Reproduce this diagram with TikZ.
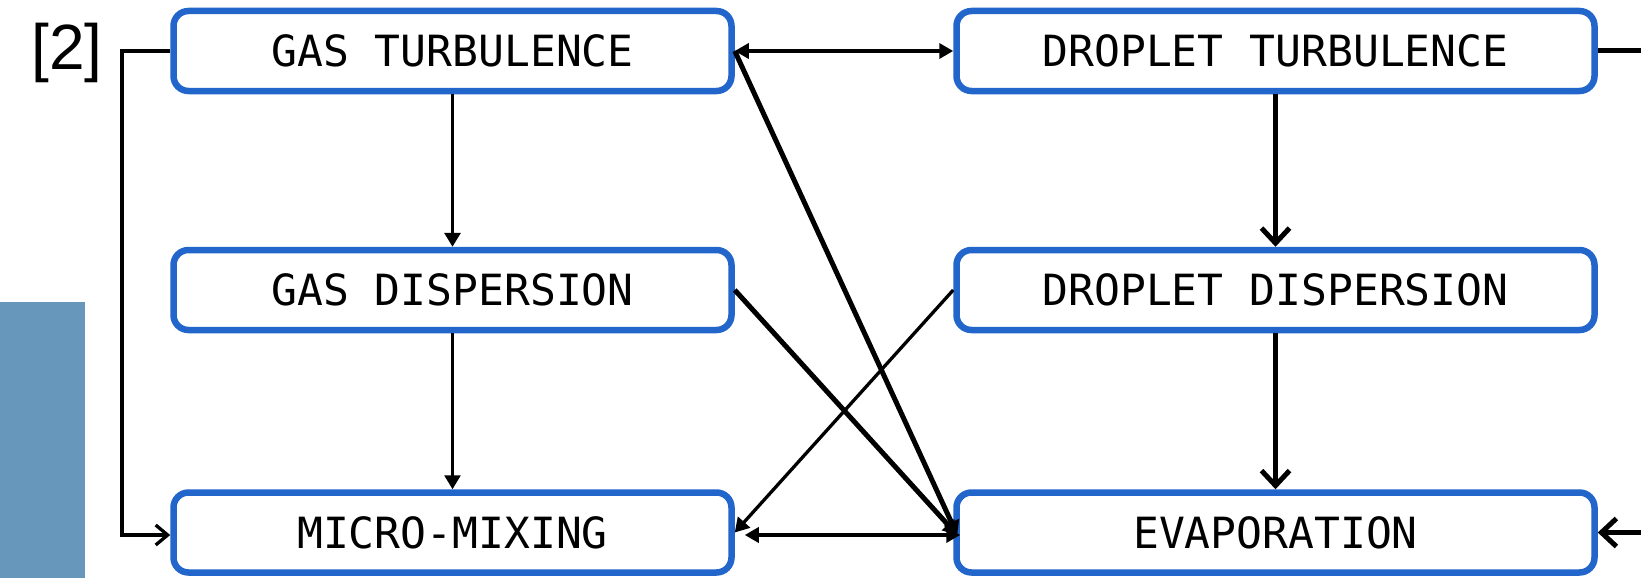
\documentclass[tikz,border=0pt]{standalone}
\usepackage{fontspec}
\setmainfont{Liberation Sans}
\newfontfamily\monof{DejaVu Sans Mono}
\usetikzlibrary{arrows.meta,calc}
\definecolor{boxblue}{RGB}{34,102,204}
\definecolor{sideblue}{RGB}{103,152,187}
\begin{document}
\begin{tikzpicture}[x=1pt,y=-1pt,
  box/.style={draw=boxblue,line width=6.5pt,rounded corners=15pt,fill=white,
    font=\monof\fontsize{43}{50}\selectfont,minimum height=80pt,inner sep=0pt},
  lbox/.style={box,minimum width=558pt},
  rbox/.style={box,minimum width=638pt},
  tri/.style={-{Triangle[length=14pt,width=16pt]}},
  dtri/.style={{Triangle[length=14pt,width=15pt]}-{Triangle[length=14pt,width=15pt]}},
  barb/.style={-{Straight Barb[length=15pt,width=28pt]}},
  sbarb/.style={-{Straight Barb[length=12pt,width=20pt]}}
]
\useasboundingbox (0,0) rectangle (1641,578);
\fill[sideblue] (0,302) rectangle (85,578);
\node (ref) [font=\fontsize{64}{72}\selectfont,inner sep=0pt] at (67,53) {[2]};
\node (GT) [lbox] at (452.5,51) {GAS TURBULENCE};
\node (GD) [lbox] at (452.5,290) {GAS DISPERSION};
\node (MM) [lbox] at (452.5,532.5) {MICRO-MIXING};
\node (DT) [rbox] at (1275.5,51) {DROPLET TURBULENCE};
\node (DD) [rbox] at (1275.5,290) {DROPLET DISPERSION};
\node (EV) [rbox] at (1275.5,532.5) {EVAPORATION};
\coordinate (LC) at (122,51);
\coordinate (RT) at (1641,51);
\coordinate (RB) at (1641,532.5);
% left column
\draw[line width=3.2pt,tri] (GT.south) -- (GD.north);
\draw[line width=2.6pt,tri] (GD.south) -- (MM.north);
% right column
\draw[line width=5pt,barb] (DT.south) -- (DD.north);
\draw[line width=5pt,barb] (DD.south) -- (EV.north);
% horizontals
\draw[line width=4pt,dtri] (GT.east) -- (DT.west);
\draw[line width=4.5pt,dtri] ($(MM.east)+(10,2.5)$) -- ($(EV.west)+(7,2.5)$);
% diagonals
\draw[line width=5pt,tri] (GT.east) -- ($(EV.west)+(4,2.5)$);
\draw[line width=5pt,tri] (GD.east) -- ($(EV.west)+(4,2.5)$);
\draw[line width=3.3pt,tri] (DD.west) -- (MM.east);
% outer connectors
\draw[line width=3.3pt,sbarb] (GT.west) -- (LC) |- ($(MM.west)+(0,2.5)$);
\draw[line width=5pt] (DT.east) -- (RT);
\draw[line width=5pt,barb] (RB) -- (EV.east);
\end{tikzpicture}
\end{document}
